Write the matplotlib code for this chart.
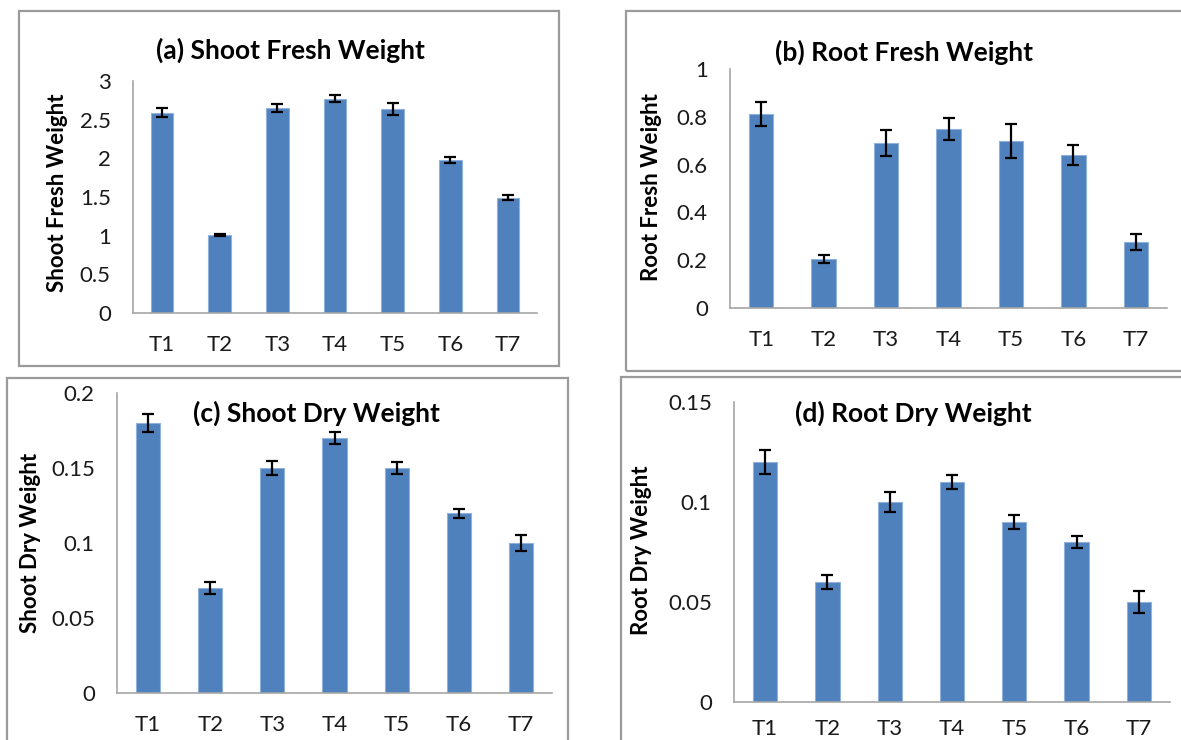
import matplotlib
matplotlib.use("Agg")
import matplotlib.pyplot as plt
from matplotlib.patches import Rectangle
from matplotlib.ticker import FuncFormatter

plt.rcParams['font.family'] = ['Lato', 'DejaVu Sans']

treatments = ['T1', 'T2', 'T3', 'T4', 'T5', 'T6', 'T7']

shoot_fresh = [2.59, 1.01, 2.65, 2.77, 2.64, 1.98, 1.49]
shoot_fresh_err = [0.06, 0.01, 0.055, 0.045, 0.075, 0.04, 0.035]

root_fresh = [0.81, 0.205, 0.69, 0.75, 0.70, 0.64, 0.275]
root_fresh_err = [0.05, 0.015, 0.056, 0.046, 0.071, 0.04, 0.034]

shoot_dry = [0.18, 0.07, 0.15, 0.17, 0.15, 0.12, 0.10]
shoot_dry_err = [0.006, 0.0037, 0.0044, 0.0037, 0.0039, 0.003, 0.0054]

root_dry = [0.12, 0.06, 0.10, 0.11, 0.09, 0.08, 0.05]
root_dry_err = [0.0058, 0.0036, 0.0048, 0.0034, 0.0037, 0.003, 0.0056]

W, H = 1181, 740
fig = plt.figure(figsize=(W / 100, H / 100), dpi=100)


def fx(px):
    return px / W


def fy(py):
    return 1 - py / H


# panel layout in pixels: box, axes (left, right, top, zero), title xy, ylabel xy
panels = [
    dict(vals=shoot_fresh, err=shoot_fresh_err, ymax=3, step=0.5,
         title='(a) Shoot Fresh Weight', ylabel='Shoot Fresh Weight',
         box=(19, 11, 559, 366), ax=(133, 537, 81, 313),
         tpos=(290, 50), lpos=(57, 193), xpad=16),
    dict(vals=root_fresh, err=root_fresh_err, ymax=1, step=0.2,
         title='(b) Root Fresh Weight', ylabel='Root Fresh Weight',
         box=(626, 11, 1190, 371), ax=(730, 1167, 69, 308),
         tpos=(904, 52), lpos=(652, 187), xpad=16),
    dict(vals=shoot_dry, err=shoot_dry_err, ymax=0.2, step=0.05,
         title='(c) Shoot Dry Weight', ylabel='Shoot Dry Weight',
         box=(7, 378, 568, 750), ax=(117, 552, 393, 693),
         tpos=(316, 413), lpos=(31, 543), xpad=16),
    dict(vals=root_dry, err=root_dry_err, ymax=0.15, step=0.05,
         title='(d) Root Dry Weight', ylabel='Root Dry Weight',
         box=(621, 377, 1190, 750), ax=(734, 1170, 402, 702),
         tpos=(913, 413), lpos=(641, 550), xpad=12),
]

for p in panels:
    bx0, by0, bx1, by1 = p['box']
    fig.patches.append(Rectangle((fx(bx0), fy(by1)), fx(bx1 - bx0), (by1 - by0) / H,
                                 transform=fig.transFigure, fill=False,
                                 edgecolor='#9a9a9a', linewidth=1.6, zorder=0))

    l, r, t, z = p['ax']
    ax = fig.add_axes([fx(l), fy(z), fx(r - l), (z - t) / H])
    x = range(len(treatments))
    ax.bar(x, p['vals'], width=0.39, color='#4F81BD', edgecolor='#8FB1DC',
           linewidth=0.8, zorder=2)
    ax.errorbar(x, p['vals'], yerr=p['err'], fmt='none', ecolor='black',
                elinewidth=1.6, capsize=4, capthick=1.6, zorder=3)

    ax.set_xlim(-0.5, len(treatments) - 0.5)
    ax.set_ylim(0, p['ymax'])
    n = int(round(p['ymax'] / p['step']))
    ax.set_yticks([i * p['step'] for i in range(n + 1)])
    ax.yaxis.set_major_formatter(FuncFormatter(lambda v, pos: f'{v:.2f}'.rstrip('0').rstrip('.')))
    ax.set_xticks(list(x))
    ax.set_xticklabels(treatments)
    ax.tick_params(axis='both', length=0, labelsize=16, colors='#1a1a1a')
    ax.tick_params(axis='y', pad=16)
    ax.tick_params(axis='x', pad=p['xpad'])

    for side in ['top', 'right']:
        ax.spines[side].set_visible(False)
    for side in ['left', 'bottom']:
        ax.spines[side].set_color('#a6a6a6')
        ax.spines[side].set_linewidth(1.2)

    ax.set_ylabel(p['ylabel'], fontsize=16, fontweight='bold', color='black',
                  va='center')
    ax.yaxis.set_label_coords(fx(p['lpos'][0]), fy(p['lpos'][1]), transform=fig.transFigure)

    fig.text(fx(p['tpos'][0]), fy(p['tpos'][1]), p['title'], fontsize=19,
             fontweight='bold', ha='center', va='center')

fig.savefig('out.png', dpi=100)
